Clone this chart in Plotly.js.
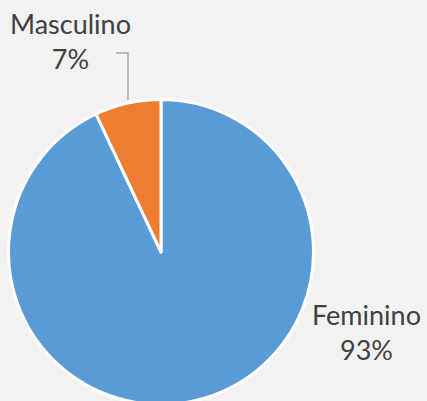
<!DOCTYPE html>
<html>
<head>
<meta charset="utf-8">
<script src="https://cdn.plot.ly/plotly-3.0.1.min.js"></script>
<style>
html, body { margin:0; padding:0; background:#F2F2F2; overflow:hidden; width:427px; height:401px; }
#chart { width:427px; height:410px; }
</style>
</head>
<body>
<div id="chart"></div>
<script>
const categories = ["Feminino", "Masculino"];
const values = [93, 7];
const colors = ["#5B9BD5", "#ED7D31"];

const W = 427, H = 410;
const cx = 161, cyTop = 252, r = 152.5;
const px = x => x / W;
const py = y => 1 - y / H;

const total = values.reduce((a, b) => a + b, 0);
const pct = values.map(v => Math.round(v / total * 100) + "%");

const font = { family: "Lato, 'Open Sans', sans-serif", size: 27, color: "#404040" };

const data = [{
  type: "pie",
  labels: categories,
  values: values,
  sort: false,
  direction: "clockwise",
  rotation: 0,
  textinfo: "none",
  hoverinfo: "label+percent",
  marker: { colors: colors, line: { color: "#FFFFFF", width: 3 } },
  domain: { x: [px(cx - r), px(cx + r)], y: [py(cyTop + r), py(cyTop - r)] },
  showlegend: false
}];

const layout = {
  width: W, height: H,
  margin: { l: 0, r: 0, t: 0, b: 0 },
  paper_bgcolor: "#F2F2F2",
  plot_bgcolor: "#F2F2F2",
  showlegend: false,
  annotations: [
    { text: categories[1] + "<br>" + pct[1], x: px(70), y: py(41), xref: "paper", yref: "paper",
      xanchor: "center", yanchor: "middle", showarrow: false, font: font, align: "center" },
    { text: categories[0] + "<br>" + pct[0], x: px(366), y: py(332), xref: "paper", yref: "paper",
      xanchor: "center", yanchor: "middle", showarrow: false, font: font, align: "center" }
  ],
  shapes: [
    { type: "path", xref: "paper", yref: "paper",
      path: "M " + px(116) + " " + py(53) + " L " + px(128) + " " + py(53) + " L " + px(128) + " " + py(100),
      line: { color: "#A6A6A6", width: 1.5 } }
  ]
};

Plotly.newPlot("chart", data, layout, { displayModeBar: false, staticPlot: true });
</script>
</body>
</html>
